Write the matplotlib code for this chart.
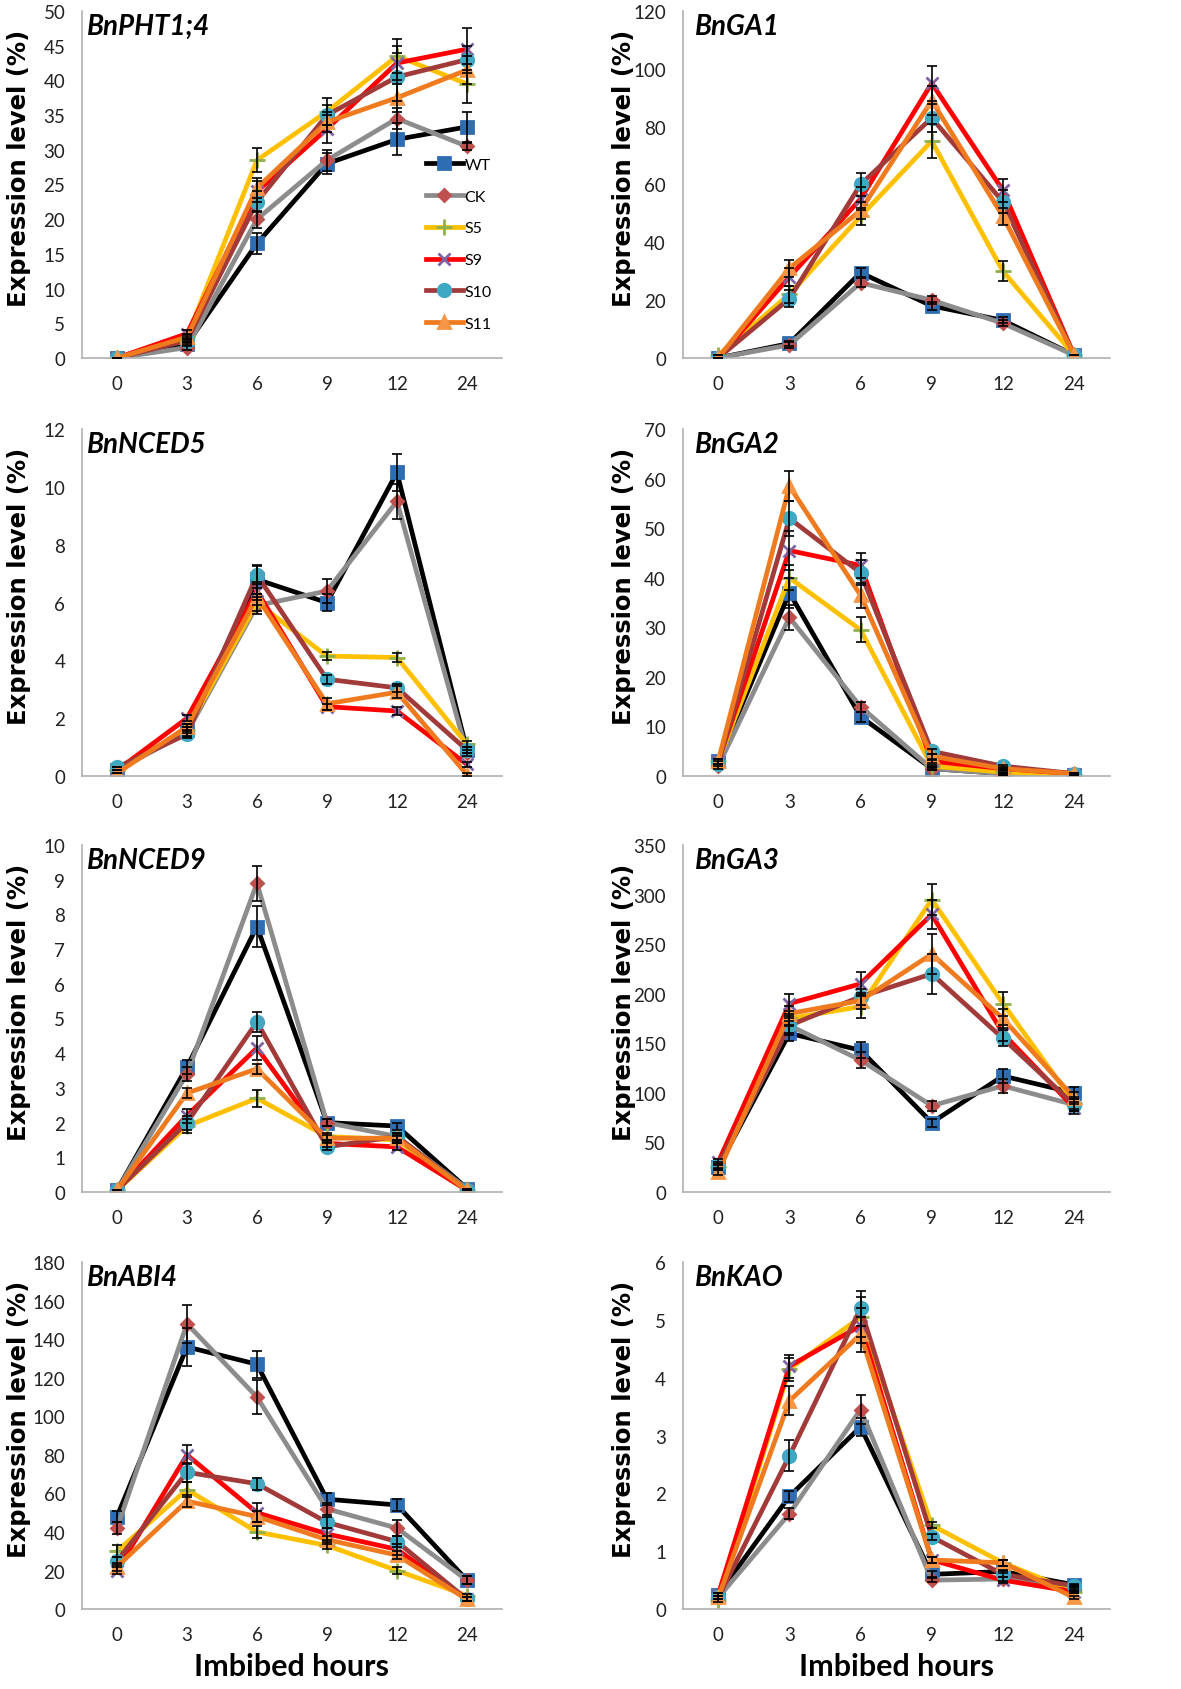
import matplotlib
matplotlib.use("Agg")
import matplotlib.pyplot as plt

plt.rcParams['font.family'] = ['Lato', 'DejaVu Sans']

# x categories (imbibed hours)
hours = ['0', '3', '6', '9', '12', '24']
lines = ['WT', 'CK', 'S5', 'S9', 'S10', 'S11']

# values per gene: one row per line (WT, CK, S5, S9, S10, S11)
pht1_4 = [[0, 2, 16.5, 28, 31.5, 33.3],
          [0, 1.5, 20, 28.5, 34.5, 30.5],
          [0, 3, 28.5, 35.5, 43.5, 39.5],
          [0, 3.5, 24, 33, 42.5, 44.5],
          [0, 2.5, 22.5, 35, 40.5, 43],
          [0, 3, 24.5, 34, 37.5, 41.5]]
pht1_4_err = [[0, 0.3, 1.5, 1.5, 2.3, 2.2],
              [0, 0.3, 1.2, 1.5, 1.5, 0.5],
              [0, 0.5, 1.7, 2, 2.5, 2.8],
              [0, 0.5, 1.5, 2, 2.5, 3],
              [0, 0.3, 1.5, 1.5, 3.5, 2],
              [0, 0.3, 1.5, 1.5, 2, 2]]

ga1 = [[0, 5, 29.5, 18, 13, 1],
       [0, 4.5, 26, 20, 12, 1],
       [1, 22, 49, 75, 30, 1],
       [0, 28, 55, 95, 58, 1],
       [0, 20.5, 60, 83, 54, 1],
       [0, 31, 51, 89, 49, 1]]
ga1_err = [[0, 1, 1.5, 1.5, 1, 0],
           [0, 1, 1.5, 1.5, 1, 0],
           [0, 3, 3, 6, 3.5, 0],
           [0, 3, 4, 6, 4, 0],
           [0, 3, 4, 5, 4, 0],
           [0, 3, 3, 5, 3, 0]]

nced5 = [[0.2, 1.6, 6.8, 6.0, 10.5, 0.9],
         [0.2, 1.5, 5.9, 6.4, 9.5, 0.8],
         [0.2, 1.6, 6.0, 4.15, 4.1, 1.1],
         [0.2, 2.0, 6.4, 2.4, 2.25, 0.4],
         [0.3, 1.45, 6.95, 3.35, 3.05, 0.9],
         [0.1, 1.7, 6.2, 2.5, 2.9, 0.05]]
nced5_err = [[0, 0.2, 0.5, 0.3, 0.65, 0.1],
             [0, 0.2, 0.3, 0.4, 0.6, 0.1],
             [0, 0.1, 0.3, 0.15, 0.15, 0.1],
             [0, 0.1, 0.3, 0.1, 0.15, 0.1],
             [0, 0.1, 0.3, 0.15, 0.15, 0.1],
             [0, 0.1, 0.3, 0.2, 0.2, 0.05]]

ga2 = [[3, 37, 12, 1.5, 0.5, 0.3],
       [2, 32, 14, 1.5, 0.5, 0.3],
       [3, 40, 29.5, 2, 0.8, 0.3],
       [3, 45.5, 42.5, 3, 1.5, 0.5],
       [2.5, 52, 41, 5, 2, 0.5],
       [3, 58.5, 36.5, 4, 1.5, 0.5]]
ga2_err = [[0.5, 3, 1, 0.3, 0.2, 0.1],
           [0.5, 2.5, 1, 0.3, 0.2, 0.1],
           [0.5, 2.5, 2.5, 0.3, 0.2, 0.1],
           [0.5, 4, 2.5, 0.3, 0.2, 0.1],
           [0.5, 3.5, 2.5, 0.5, 0.2, 0.1],
           [0.5, 3, 2.5, 0.5, 0.2, 0.1]]

nced9 = [[0.05, 3.6, 7.65, 2.0, 1.9, 0.1],
         [0.05, 3.4, 8.9, 2.0, 1.6, 0.1],
         [0.05, 1.9, 2.7, 1.6, 1.5, 0.05],
         [0.05, 2.2, 4.15, 1.4, 1.3, 0.05],
         [0.05, 2.0, 4.9, 1.3, 1.6, 0.05],
         [0.05, 2.85, 3.55, 1.55, 1.55, 0.05]]
nced9_err = [[0, 0.2, 0.6, 0.1, 0.1, 0],
             [0, 0.2, 0.5, 0.1, 0.1, 0],
             [0, 0.2, 0.25, 0.1, 0.1, 0],
             [0, 0.2, 0.35, 0.1, 0.1, 0],
             [0, 0.2, 0.3, 0.1, 0.1, 0],
             [0, 0.15, 0.15, 0.1, 0.1, 0]]

ga3 = [[25, 160, 143, 70, 117, 100],
       [25, 168, 133, 87, 107, 88],
       [25, 175, 187, 295, 190, 90],
       [30, 190, 210, 280, 160, 85],
       [27, 168, 197, 220, 155, 88],
       [20, 180, 193, 240, 175, 95]]
ga3_err = [[3, 8, 8, 4, 7, 6],
           [3, 8, 8, 5, 7, 6],
           [3, 8, 12, 16, 12, 6],
           [3, 10, 12, 15, 8, 6],
           [3, 10, 8, 20, 8, 6],
           [3, 8, 8, 20, 10, 6]]

abi4 = [[48, 136, 127, 57, 54, 15],
        [42, 148, 110, 52, 42, 15],
        [30, 62, 40, 33, 20, 7],
        [20, 80, 50, 39, 31, 5],
        [25, 71, 65, 45, 35, 5],
        [22, 56, 48, 36, 28, 5]]
abi4_err = [[3, 10, 7, 3, 3, 2],
            [3, 10, 9, 3, 4, 2],
            [3, 4, 3, 2, 2, 1],
            [2, 5, 5, 3, 3, 1],
            [2, 5, 3, 3, 3, 1],
            [2, 3, 3, 2, 2, 1]]

kao = [[0.25, 1.95, 3.15, 0.6, 0.65, 0.42],
       [0.2, 1.65, 3.45, 0.5, 0.52, 0.35],
       [0.15, 4.15, 5.05, 1.45, 0.8, 0.3],
       [0.25, 4.2, 4.9, 0.85, 0.5, 0.3],
       [0.2, 2.65, 5.2, 1.25, 0.6, 0.4],
       [0.2, 3.6, 4.75, 0.85, 0.8, 0.2]]
kao_err = [[0.02, 0.1, 0.15, 0.05, 0.03, 0.02],
           [0.02, 0.1, 0.25, 0.03, 0.03, 0.02],
           [0.02, 0.2, 0.35, 0.05, 0.05, 0.02],
           [0.02, 0.2, 0.3, 0.05, 0.05, 0.02],
           [0.02, 0.27, 0.3, 0.05, 0.05, 0.02],
           [0.02, 0.25, 0.3, 0.05, 0.05, 0.02]]

# styles (Excel-like)
line_colors = ['#000000', '#8c8c8c', '#ffc000', '#ff0000', '#a33a3a', '#f07a1e']
marker_styles = ['s', 'D', '+', 'x', 'o', '^']
marker_colors = ['#2f6db3', '#c0504d', '#8fb04a', '#8064a2', '#3fa9c4', '#f79646']
marker_sizes = [8, 6, 11, 8, 9, 8]

panels = [
    ('BnPHT1;4', pht1_4, pht1_4_err, 50, 5),
    ('BnGA1', ga1, ga1_err, 120, 20),
    ('BnNCED5', nced5, nced5_err, 12, 2),
    ('BnGA2', ga2, ga2_err, 70, 10),
    ('BnNCED9', nced9, nced9_err, 10, 1),
    ('BnGA3', ga3, ga3_err, 350, 50),
    ('BnABI4', abi4, abi4_err, 180, 20),
    ('BnKAO', kao, kao_err, 6, 1),
]

fig = plt.figure(figsize=(11.81, 16.90), dpi=100)

col_left = [0.0694, 0.578]
col_width = [0.3556, 0.3616]
row_bottom = [0.7876, 0.5402, 0.2941, 0.0473]
row_height = 0.2053
x = list(range(len(hours)))

for i, (gene, vals, errs, ymax, ystep) in enumerate(panels):
    r, c = divmod(i, 2)
    ax = fig.add_axes([col_left[c], row_bottom[r], col_width[c], row_height])
    for k in range(len(lines)):
        ax.plot(x, vals[k], color=line_colors[k], lw=3.4, label=lines[k],
                marker=marker_styles[k], ms=marker_sizes[k],
                mfc=marker_colors[k], mec=marker_colors[k], mew=2, zorder=2 + k * 0.1)
        ax.errorbar(x, vals[k], yerr=errs[k], fmt='none', ecolor='black',
                    elinewidth=1.2, capsize=3.5, capthick=1.2, zorder=3)
    ax.set_xlim(-0.5, 5.5)
    ax.set_ylim(0, ymax)
    ticks = [t * ystep for t in range(int(round(ymax / ystep)) + 1)]
    ax.set_yticks(ticks)
    ax.set_yticklabels([f'{t:g}' for t in ticks])
    ax.set_xticks(x)
    ax.set_xticklabels(hours)
    ax.tick_params(length=0, labelsize=13.5, colors='#222222', pad=12)
    for s in ['top', 'right']:
        ax.spines[s].set_visible(False)
    for s in ['left', 'bottom']:
        ax.spines[s].set_color('#b0b0b0')
        ax.spines[s].set_linewidth(1.2)
    ax.set_ylabel('Expression level (%)', fontsize=17.5, fontweight='bold',
                  family='DejaVu Sans')
    # label anchor is its right edge
    ax.yaxis.set_label_coords(-0.122 if c == 0 else -0.11, 0.55)
    ax.text(0.012 if c == 0 else 0.028, 0.995, gene, transform=ax.transAxes,
            fontsize=20, fontweight='bold', fontstyle='italic', ha='left', va='top')
    if r == 3:
        ax.set_xlabel('Imbibed hours', fontsize=22, fontweight='bold', labelpad=7)
    if i == 0:
        ax.legend(loc='upper left', bbox_to_anchor=(0.80, 0.60), frameon=False,
                  fontsize=11.5, handlelength=2.3, handletextpad=0.1,
                  labelspacing=1.1, borderpad=0)

fig.savefig('out.png', dpi=100)
